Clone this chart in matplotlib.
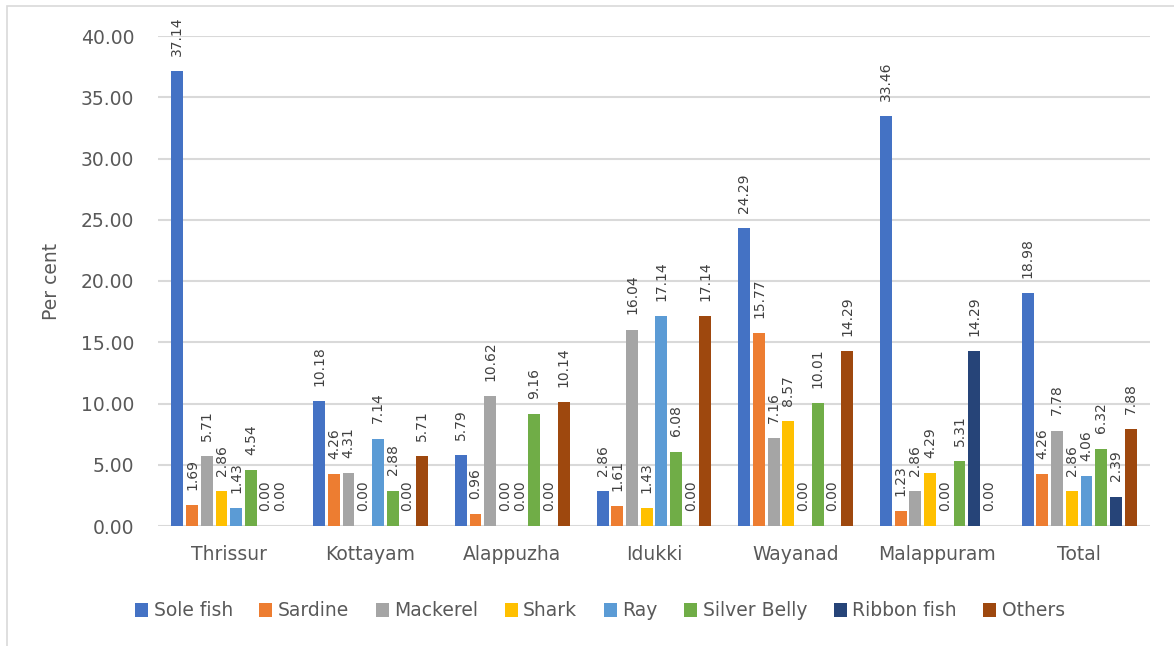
import matplotlib
matplotlib.use("Agg")
import matplotlib.pyplot as plt
import matplotlib.patches as mpatches
import numpy as np

# Share of fish species by district (per cent)
districts = ["Thrissur", "Kottayam", "Alappuzha", "Idukki", "Wayanad", "Malappuram", "Total"]
species = ["Sole fish", "Sardine", "Mackerel", "Shark", "Ray", "Silver Belly", "Ribbon fish", "Others"]

sole_fish   = [37.14, 10.18, 5.79, 2.86, 24.29, 33.46, 18.98]
sardine     = [1.69, 4.26, 0.96, 1.61, 15.77, 1.23, 4.26]
mackerel    = [5.71, 4.31, 10.62, 16.04, 7.16, 2.86, 7.78]
shark       = [2.86, 0.00, 0.00, 1.43, 8.57, 4.29, 2.86]
ray         = [1.43, 7.14, 0.00, 17.14, 0.00, 0.00, 4.06]
silver      = [4.54, 2.88, 9.16, 6.08, 10.01, 5.31, 6.32]
ribbon_fish = [0.00, 0.00, 0.00, 0.00, 0.00, 14.29, 2.39]
others      = [0.00, 5.71, 10.14, 17.14, 14.29, 0.00, 7.88]

series = [sole_fish, sardine, mackerel, shark, ray, silver, ribbon_fish, others]
colors = ["#4472C4", "#ED7D31", "#A5A5A5", "#FFC000", "#5B9BD5", "#70AD47", "#264478", "#9E480E"]

txt = "#595959"
plt.rcParams["font.family"] = "DejaVu Sans"

fig = plt.figure(figsize=(11.74, 6.46), dpi=100)
ax = fig.add_axes([158/1174, 1 - 526/646, (1150 - 158)/1174, (526 - 36)/646])

# thin outer frame
fig.patches.append(mpatches.Rectangle((7/1174, -0.1), 1.2, 0.1 + (1 - 6/646),
                                      transform=fig.transFigure, fill=False,
                                      edgecolor="#d9d9d9", linewidth=1.2))

x = np.arange(len(districts))
pitch = 0.1037
width = 0.084
for i, (vals, col, name) in enumerate(zip(series, colors, species)):
    pos = x + (i - 3.5) * pitch
    bars = ax.bar(pos, vals, width, color=col, label=name, zorder=3)
    for b, v in zip(bars, vals):
        ax.annotate(f"{v:.2f}", (b.get_x() + b.get_width() / 2, v),
                    xytext=(0, 11), textcoords="offset points",
                    rotation=90, ha="center", va="bottom",
                    fontsize=10, color="#404040", annotation_clip=False)

ax.set_xlim(-0.5, len(districts) - 0.5)
ax.set_ylim(0, 40)
ax.set_yticks(np.arange(0, 41, 5))
ax.set_yticklabels([f"{t:.2f}" for t in np.arange(0, 41, 5)])
ax.set_xticks(x)
ax.set_xticklabels(districts)
ax.tick_params(axis="both", length=0, colors=txt, labelsize=13.5)
ax.tick_params(axis="y", pad=17)
ax.tick_params(axis="x", pad=14)
ax.grid(axis="y", color="#d9d9d9", linewidth=1.5, zorder=0)
ax.set_axisbelow(True)
for s in ax.spines.values():
    s.set_visible(False)
ax.set_ylabel("Per cent", fontsize=13.5, color=txt, labelpad=14)

fig.legend(loc="center", bbox_to_anchor=(600/1174, 1 - 611/646), ncol=8,
           frameon=False, fontsize=13.5, labelcolor=txt,
           handlelength=0.7, handleheight=0.7, handletextpad=0.3,
           columnspacing=1.4)

fig.savefig("out.png", dpi=100)
